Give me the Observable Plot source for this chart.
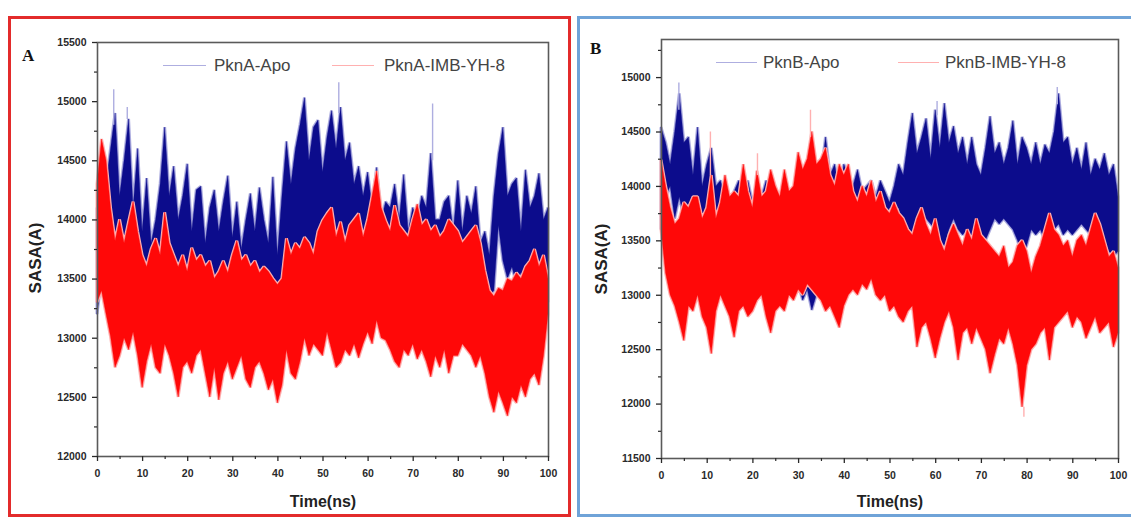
<!DOCTYPE html>
<html><head><meta charset="utf-8">
<script src="https://cdn.jsdelivr.net/npm/d3@7"></script>
<script src="https://cdn.jsdelivr.net/npm/@observablehq/plot@0.6"></script>
<style>
html,body{margin:0;padding:0;background:#fff}
body{width:1131px;height:518px;overflow:hidden;position:relative;font-family:"Liberation Sans",Arial,sans-serif}
.panel{position:absolute;box-sizing:border-box}
#pa{left:8px;top:16px;width:563px;height:501px;border:3px solid #e32b2b}
#pb{left:577px;top:16px;width:570px;height:501px;border:3px solid #6fa3d8}
.chart{position:absolute}
.leg{position:absolute;height:1.5px}
.legt{position:absolute;font-size:17px;color:#444;line-height:17px;white-space:nowrap}
.ttl{position:absolute;font-weight:bold;font-size:16px;color:#222;white-space:nowrap;line-height:1;transform:translate(-50%,-50%)}
.ylab{transform:translate(-50%,-50%) rotate(-90deg);font-size:17px}
.letter{position:absolute;font-family:"Liberation Serif","DejaVu Serif",serif;font-weight:bold;font-size:17px;color:#111;line-height:1}
</style></head>
<body>
<div id="pa" class="panel"></div>
<div id="pb" class="panel"></div>
<div id="ca" class="chart" style="left:10px;top:20px"></div>
<div id="cb" class="chart" style="left:580px;top:20px"></div>
<script>
// ---------- data (SASA, sampled per ns, envelope of the fluctuating trace) ----------
const time = d3.range(0, 101); // ns
const seriesNames = ["PknA-Apo", "PknA-IMB-YH-8", "PknB-Apo", "PknB-IMB-YH-8"];

const apoA_hi = [14100,13900,14300,14600,14900,14200,14500,14850,14100,14600,
 13900,14350,13800,14000,14300,14780,14200,14450,14000,14200,
 14470,13900,14250,14280,13800,14100,14250,13900,14150,14370,
 13850,14150,13750,14000,14220,13900,14270,14000,13800,14360,
 13700,14200,14660,14300,14600,14800,15030,14500,14780,14840,
 14400,14700,14920,14600,14950,14500,14650,14300,14450,14200,
 14400,14100,14440,14000,14150,14100,14300,14000,14380,13900,
 14100,14000,14200,14100,14560,14000,14000,14150,14200,13900,
 14330,13900,14200,14050,14280,13800,13900,13700,14200,14550,
 14780,14200,14300,14350,13900,14420,14100,14200,14390,14000,
 14100];
const apoA_lo = [13200,13500,13400,13600,13700,13500,13600,13400,13500,13300,
 13200,13400,13300,13500,13400,13500,13300,13400,13200,13300,
 13400,13200,13300,13400,13200,13300,13200,13300,13400,13300,
 13200,13100,12930,13200,13300,13200,13300,13200,13300,13100,
 13300,13500,13600,13700,13600,13700,13800,13600,13700,13500,
 13600,13500,13600,13500,13400,13500,13300,13400,13300,13200,
 13300,13200,13300,13100,13000,13150,13300,13200,13300,13200,
 13300,13200,13300,13400,13300,13200,13300,13200,13300,13400,
 13300,13400,13300,13400,13300,13400,13500,13350,13400,13950,
 13650,13500,13600,13450,13550,13500,13400,13550,13500,13600,
 13300];
const imbA_hi = [14300,14680,14500,14100,13820,14000,13800,13980,14150,13900,
 13700,13600,13750,13840,13700,14060,13800,13700,13600,13700,
 13560,13760,13650,13700,13600,13650,13500,13560,13650,13550,
 13700,13820,13650,13700,13600,13650,13550,13600,13560,13500,
 13450,13500,13840,13700,13800,13750,13850,13800,13700,13900,
 13990,14050,14100,13850,13980,13800,13950,14000,14050,13850,
 14000,14200,14410,14100,13990,13900,14120,13950,13900,13850,
 14000,14130,13950,14000,13900,13950,13850,13900,14000,13950,
 13900,13800,13850,13900,13950,13800,13570,13400,13350,13420,
 13400,13500,13480,13550,13500,13600,13650,13750,13600,13700,
 13500];
const imbA_lo = [13300,13400,13200,13010,12750,12850,13000,12900,13050,12850,
 12580,12800,12950,12750,12700,12950,12850,12700,12500,12750,
 12800,12700,12850,12900,12700,12500,12750,12475,12700,12800,
 12650,12750,12850,12650,12580,12750,12800,12700,12560,12650,
 12450,12600,12900,12700,12650,12800,13000,12850,12950,12900,
 12850,13050,12900,12750,12790,12900,12850,12950,12830,12950,
 13050,12950,13150,13000,12980,12900,12800,12750,12900,12850,
 12950,12820,12900,12800,12670,12850,12750,12900,12700,12850,
 12850,12950,12900,12850,12750,12850,12700,12500,12370,12550,
 12450,12340,12500,12450,12600,12500,12650,12700,12600,12850,
 13200];

const apoB_hi = [14540,14400,14200,14500,14850,14400,14450,14100,14540,14000,
 14200,14350,14000,14050,13900,13850,13950,14050,13900,14050,
 13850,14000,13900,14050,13850,13950,13850,14100,13900,13900,
 13800,14100,13950,14000,13950,14100,14450,14100,14200,13950,
 14200,14100,14000,14150,13950,14000,14050,13900,14050,13950,
 13850,14000,14200,14100,14400,14670,14300,14450,14620,14250,
 14700,14350,14760,14400,14550,14300,14450,14200,14450,14200,
 14100,14350,14640,14300,14400,14200,14350,14600,14200,14450,
 14350,14200,14400,14200,14380,14300,14500,14850,14400,14450,
 14200,14350,14150,14400,14100,14250,14150,14300,14100,14200,
 13900];
const apoB_lo = [13600,13900,14000,13700,13900,13700,13600,13500,13700,13400,
 13500,13400,13300,13400,13100,13300,13200,13300,13200,13300,
 13250,13300,13200,13300,13050,13200,13300,13200,13300,13200,
 13100,12950,13050,12860,13000,13100,13200,13300,13250,13300,
 13400,13350,13400,13350,13500,13450,13500,13550,13600,13700,
 13800,13750,13800,13600,13500,13440,13600,13550,13700,13650,
 13600,13500,13450,13600,13700,13600,13550,13600,13500,13550,
 13420,13500,13600,13700,13650,13700,13650,13600,13500,13350,
 13450,13600,13550,13600,13500,13550,13600,13650,13550,13600,
 13550,13600,13650,13600,13550,13500,13450,13500,13400,13350,
 13400];
const imbB_hi = [14240,14000,13800,13650,13700,13850,13800,13900,13900,13700,
 13800,14100,13700,13850,14100,13900,13950,13900,14200,13950,
 13800,14140,13900,13950,14150,14000,13900,14150,13950,14000,
 14310,14150,14250,14500,14200,14250,14350,14100,14000,14200,
 14100,14200,13950,13850,14000,13900,14050,13850,13950,13800,
 13750,13850,13750,13700,13600,13550,13700,13800,13650,13550,
 13700,13500,13400,13550,13650,13550,13450,13600,13500,13700,
 13550,13500,13450,13400,13350,13450,13250,13300,13450,13500,
 13400,13200,13350,13450,13600,13750,13600,13550,13450,13500,
 13350,13500,13550,13450,13600,13750,13650,13500,13350,13400,
 13250];
const imbB_lo = [13600,13200,13000,12900,12750,12580,12900,12850,13000,12800,
 12700,12460,12850,13000,12900,12800,12610,12850,12900,12800,
 12850,12950,13000,12800,12650,12850,12900,12850,13000,12950,
 13050,13000,13100,13050,13000,12950,12850,12900,12800,12700,
 12900,13000,13050,13000,13100,13050,13150,13000,12950,13000,
 12850,12900,12800,12750,12850,12900,12520,12700,12750,12600,
 12420,12600,12750,12850,12700,12400,12650,12700,12550,12700,
 12600,12500,12280,12450,12600,12550,12700,12550,12350,11970,
 12350,12500,12550,12650,12700,12400,12700,12750,12800,12850,
 12700,12800,12750,12600,12700,12800,12650,12700,12750,12520,
 12650];

// faint single-frame spikes beyond the dense envelope (time, from, to)
const tipsApoA_t = [3.6, 6.6, 53.5, 74.3];
const tipsApoA_a = [14800, 14850, 14900, 14500];
const tipsApoA_b = [15100, 14950, 15160, 14980];
const tipsApoB_t = [3.8, 60.3, 86.6];
const tipsApoB_a = [14700, 14650, 14750];
const tipsApoB_b = [14950, 14780, 14910];
const tipsImbB_t = [10.7, 21.0, 32.6, 79.3];
const tipsImbB_a = [14100, 14100, 14450, 11970];
const tipsImbB_b = [14500, 14300, 14700, 11880];

// ticks
const xMajor = [0,10,20,30,40,50,60,70,80,90,100];
const xMinor = [5,15,25,35,45,55,65,75,85,95];
const yMajorA = [12000,12500,13000,13500,14000,14500,15000,15500];
const yMinorA = [12250,12750,13250,13750,14250,14750,15250];
const yMajorB = [11500,12000,12500,13000,13500,14000,14500,15000];
const yMinorB = [11750,12250,12750,13250,13750,14250,14750,15250];

const BLUE = "#0c0c8c", RED = "#ff0808";
const BLUE_PALE = "#aeaee0", RED_PALE = "#ffb0b0";

function panel({yDomain, yMajor, yMinor, apoHi, apoLo, imbHi, imbLo, tips, width, height, margins}) {
  const axisFont = {fontSize: 10.5, fontWeight: "bold"};
  const marks = [
    Plot.areaY(time, {x: time, y1: apoLo, y2: apoHi, fill: "none", stroke: BLUE_PALE, strokeWidth: 3, strokeLinejoin: "miter"}),
    Plot.areaY(time, {x: time, y1: apoLo, y2: apoHi, fill: BLUE, stroke: BLUE, strokeWidth: 0.6, strokeOpacity: 0.7}),
  ];
  for (const tp of tips.filter(d => d.color === BLUE_PALE))
    marks.push(Plot.ruleX(tp.t, {x: tp.t, y1: tp.a, y2: tp.b, stroke: tp.color, strokeWidth: 1.4}));
  marks.push(
    Plot.areaY(time, {x: time, y1: imbLo, y2: imbHi, fill: "none", stroke: RED_PALE, strokeWidth: 3, strokeLinejoin: "miter"}),
    Plot.areaY(time, {x: time, y1: imbLo, y2: imbHi, fill: RED, stroke: RED, strokeWidth: 0.6, strokeOpacity: 0.7})
  );
  for (const tp of tips.filter(d => d.color === RED_PALE))
    marks.push(Plot.ruleX(tp.t, {x: tp.t, y1: tp.a, y2: tp.b, stroke: tp.color, strokeWidth: 1.4}));
  marks.push(
    Plot.frame({stroke: "#5a5a5a", strokeWidth: 1.6}),
    Plot.axisX({ticks: xMajor, tickSize: 5, tickPadding: 8, tickFormat: d => String(d), label: null, strokeWidth: 1.3, ...axisFont}),
    Plot.axisX({ticks: xMinor, tickSize: 3, text: null, label: null, strokeWidth: 1.2}),
    Plot.axisY({ticks: yMajor, tickSize: 5, tickPadding: 6, tickFormat: d => String(d), label: null, strokeWidth: 1.3, ...axisFont}),
    Plot.axisY({ticks: yMinor, tickSize: 3, text: null, label: null, strokeWidth: 1.2})
  );
  return Plot.plot({
    width, height, ...margins,
    x: {domain: [0, 100]},
    y: {domain: yDomain},
    style: {fontFamily: "'Liberation Sans', Arial, sans-serif", color: "#2a2a2a", background: "transparent", overflow: "visible"},
    marks
  });
}

document.getElementById("ca").appendChild(panel({
  yDomain: [12000, 15500], yMajor: yMajorA, yMinor: yMinorA,
  apoHi: apoA_hi, apoLo: apoA_lo, imbHi: imbA_hi, imbLo: imbA_lo,
  tips: [{t: tipsApoA_t, a: tipsApoA_a, b: tipsApoA_b, color: BLUE_PALE}],
  width: 560, height: 490,
  margins: {marginLeft: 87, marginTop: 22, marginRight: 22, marginBottom: 54}
}));
document.getElementById("cb").appendChild(panel({
  yDomain: [11500, 15350], yMajor: yMajorB, yMinor: yMinorB,
  apoHi: apoB_hi, apoLo: apoB_lo, imbHi: imbB_hi, imbLo: imbB_lo,
  tips: [{t: tipsApoB_t, a: tipsApoB_a, b: tipsApoB_b, color: BLUE_PALE},
         {t: tipsImbB_t, a: tipsImbB_a, b: tipsImbB_b, color: RED_PALE}],
  width: 550, height: 490,
  margins: {marginLeft: 81, marginTop: 19, marginRight: 12, marginBottom: 52}
}));

// ---------- titles, legends, panel letters ----------
function add(html) { document.body.insertAdjacentHTML("beforeend", html); }
add(`<div class="letter" style="left:22px;top:47px">A</div>`);
add(`<div class="letter" style="left:590px;top:40px">B</div>`);
add(`<div class="ttl ylab" style="left:35px;top:258px">SASA(A)</div>`);
add(`<div class="ttl ylab" style="left:601px;top:259px">SASA(A)</div>`);
add(`<div class="ttl" style="left:323px;top:502px">Time(ns)</div>`);
add(`<div class="ttl" style="left:890px;top:502px">Time(ns)</div>`);
// legends
add(`<div class="leg" style="left:163px;top:64.5px;width:43px;background:${BLUE_PALE}"></div>`);
add(`<div class="legt" style="left:214px;top:57px">${seriesNames[0]}</div>`);
add(`<div class="leg" style="left:332px;top:64.5px;width:42px;background:${RED_PALE}"></div>`);
add(`<div class="legt" style="left:384px;top:57px">${seriesNames[1]}</div>`);
add(`<div class="leg" style="left:716px;top:61.5px;width:41px;background:${BLUE_PALE}"></div>`);
add(`<div class="legt" style="left:763px;top:54px">${seriesNames[2]}</div>`);
add(`<div class="leg" style="left:898px;top:61.5px;width:41px;background:${RED_PALE}"></div>`);
add(`<div class="legt" style="left:945px;top:54px">${seriesNames[3]}</div>`);
</script>
</body></html>
